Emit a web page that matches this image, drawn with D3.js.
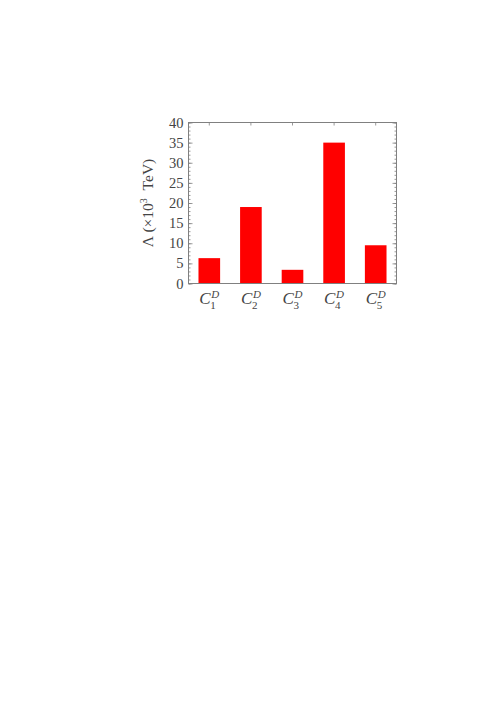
<!DOCTYPE html>
<html>
<head>
<meta charset="utf-8">
<script src="https://cdn.jsdelivr.net/npm/d3@7"></script>
<style>
  body { margin: 0; background: #fff; }
  text { font-family: "Liberation Serif", "DejaVu Serif", serif; fill: #444; }
</style>
</head>
<body>
<script>
// data
var categories = ['1', '2', '3', '4', '5'];
var lambdaVals = [6.3, 19, 3.4, 35, 9.5];
var yTicks = [0, 5, 10, 15, 20, 25, 30, 35, 40];

var W = 496, H = 702;
var frame = { left: 188.5, right: 396.5, top: 122.5, bottom: 283.5 };

var svg = d3.select('body').append('svg')
  .attr('width', W).attr('height', H);

var x = d3.scaleBand()
  .domain(categories)
  .range([frame.left, frame.right])
  .paddingInner(0.48).paddingOuter(0.24);

var xc = function (c) { return x(c) + x.bandwidth() / 2; };

var y = d3.scaleLinear()
  .domain([0, 40])
  .range([frame.bottom, frame.top]);

// bars
svg.selectAll('rect.bar')
  .data(lambdaVals)
  .enter()
  .append('rect')
  .attr('class', 'bar')
  .attr('x', function (d, i) { return x(categories[i]); })
  .attr('width', x.bandwidth())
  .attr('y', function (d) { return y(d); })
  .attr('height', function (d) { return y(0) - y(d); })
  .attr('fill', '#ff0000');

var axisCol = '#808080';

// left axis, ticks pointing inward
var left = svg.append('g')
  .attr('transform', 'translate(' + frame.left + ',0)')
  .call(d3.axisRight(y).tickValues(yTicks).tickSize(4).tickFormat(''));
left.append('g')
  .call(d3.axisRight(y).tickValues(d3.range(0, 41, 1)).tickSize(2).tickFormat(''));

// right axis
var right = svg.append('g')
  .attr('transform', 'translate(' + frame.right + ',0)')
  .call(d3.axisLeft(y).tickValues(yTicks).tickSize(4).tickFormat(''));
right.append('g')
  .call(d3.axisLeft(y).tickValues(d3.range(0, 41, 1)).tickSize(2).tickFormat(''));

// top axis, ticks at categories
var top = svg.append('g')
  .attr('transform', 'translate(0,' + frame.top + ')')
  .call(d3.axisBottom(x).tickSize(3).tickFormat(''));

svg.selectAll('.domain').remove();
svg.selectAll('.tick line').attr('stroke', axisCol).attr('stroke-width', 0.8);

// frame
svg.append('rect')
  .attr('x', frame.left).attr('y', frame.top)
  .attr('width', frame.right - frame.left)
  .attr('height', frame.bottom - frame.top)
  .attr('fill', 'none')
  .attr('stroke', axisCol)
  .attr('stroke-width', 1);

// y tick labels
svg.selectAll('text.ytl')
  .data(yTicks)
  .enter()
  .append('text')
  .attr('class', 'ytl')
  .attr('x', frame.left - 5)
  .attr('y', function (d) { return y(d) + 5; })
  .attr('text-anchor', 'end')
  .attr('font-size', 14.5)
  .text(function (d) { return d; });

// category labels C_i^D
var cl = svg.selectAll('g.cl')
  .data(categories)
  .enter()
  .append('g')
  .attr('class', 'cl')
  .attr('transform', function (c) { return 'translate(' + (xc(c) - 10) + ',' + (frame.bottom + 20) + ')'; });
cl.append('text')
  .attr('font-size', 17).attr('font-style', 'italic')
  .text('C');
cl.append('text')
  .attr('x', 12).attr('y', -6)
  .attr('font-size', 11).attr('font-style', 'italic')
  .text('D');
cl.append('text')
  .attr('x', 11).attr('y', 5)
  .attr('font-size', 11)
  .text(function (c) { return c; });

// y axis title
var yt = svg.append('text')
  .attr('transform', 'translate(153,' + ((frame.top + frame.bottom) / 2) + ') rotate(-90)')
  .attr('text-anchor', 'middle')
  .attr('font-size', 15.5);
yt.append('tspan').text('\u039B (\u00D710');
yt.append('tspan').attr('font-size', 10).attr('dy', -6).text('3');
yt.append('tspan').attr('dy', 6).text('\u2002TeV)');
</script>
</body>
</html>
